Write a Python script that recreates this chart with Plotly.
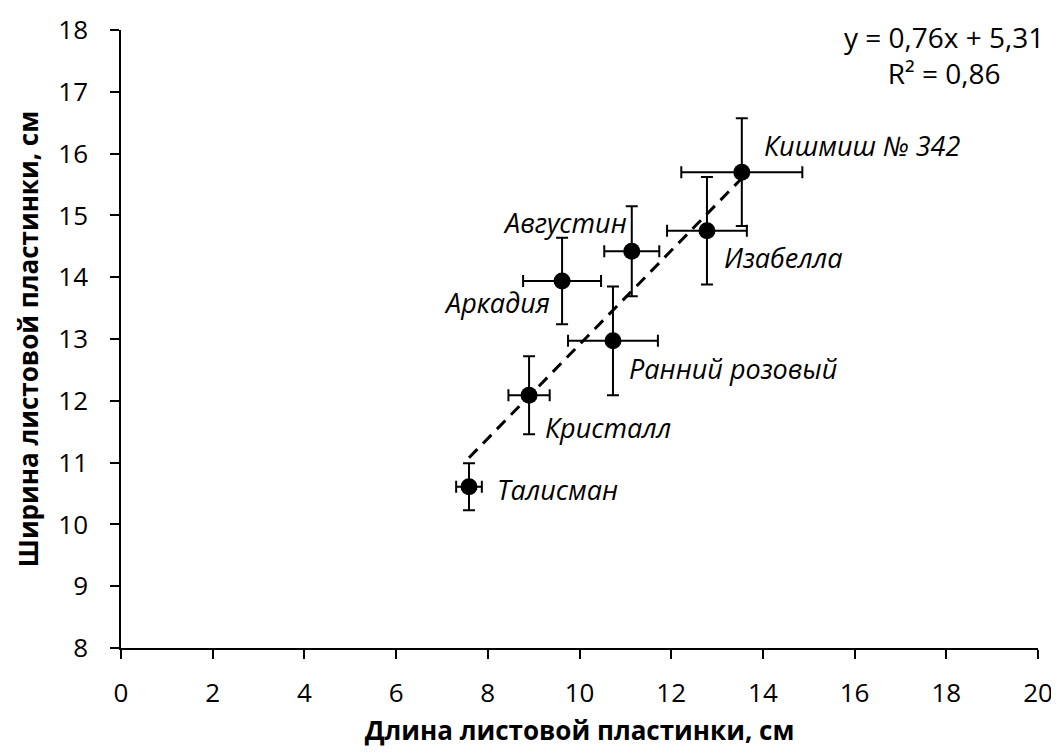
import plotly.graph_objects as go

varieties = ["Талисман", "Кристалл", "Ранний розовый", "Аркадия", "Августин", "Изабелла", "Кишмиш № 342"]
length_cm = [7.59, 8.90, 10.73, 9.62, 11.14, 12.78, 13.54]
width_cm = [10.61, 12.09, 12.97, 13.94, 14.42, 14.75, 15.70]
length_err = [0.28, 0.45, 0.98, 0.85, 0.60, 0.87, 1.32]
width_err = [0.38, 0.63, 0.88, 0.70, 0.73, 0.87, 0.87]
trend_slope = 0.76
trend_intercept = 5.31
x_ticks = list(range(0, 21, 2))
y_ticks = list(range(8, 19, 1))

label_pos = {
    "Талисман": ("left", 26, -3),
    "Кристалл": ("left", 14, -32),
    "Ранний розовый": ("left", 14, -28),
    "Аркадия": ("right", -10, -22),
    "Августин": ("right", -3, 29),
    "Изабелла": ("left", 15, -27),
    "Кишмиш № 342": ("left", 20, 27),
}

font_family = "Open Sans, Liberation Sans, sans-serif"

fig = go.Figure()

x0, x1 = min(length_cm), max(length_cm)
tx = [x0, x1]
ty = [trend_slope * v + trend_intercept for v in tx]
fig.add_trace(go.Scatter(x=tx, y=ty, mode="lines",
                         line=dict(color="black", width=3, dash="12px,8px"),
                         hoverinfo="skip", showlegend=False))

fig.add_trace(go.Scatter(
    x=length_cm, y=width_cm, mode="markers",
    marker=dict(color="black", size=17),
    error_x=dict(type="data", array=length_err, visible=True, color="black", thickness=2, width=6),
    error_y=dict(type="data", array=width_err, visible=True, color="black", thickness=2, width=6),
    showlegend=False))

for name, xv, yv in zip(varieties, length_cm, width_cm):
    anchor, dx, dy = label_pos[name]
    fig.add_annotation(x=xv, y=yv, text=name, showarrow=False,
                       xanchor=anchor, yanchor="middle", xshift=dx, yshift=dy,
                       font=dict(family=font_family, size=27, color="black", style="italic"))

fig.add_annotation(xref="paper", yref="paper", x=1.0, y=1.0, xanchor="right", yanchor="top",
                   text="y = 0,76x + 5,31<br>R² = 0,86", align="center", showarrow=False,
                   yshift=14, xshift=8,
                   font=dict(family=font_family, size=28, color="black"))

fig.update_xaxes(range=[0, 20], tickvals=x_ticks, showgrid=False, zeroline=False,
                 showline=True, linecolor="black", linewidth=1.5,
                 ticks="outside", ticklen=9, tickcolor="black", tickwidth=1.5,
                 ticklabelstandoff=12,
                 tickfont=dict(family=font_family, size=26, color="black"),
                 title=dict(text="<b>Длина листовой пластинки, см</b>", standoff=13,
                            font=dict(family=font_family, size=26, color="black")))
fig.update_yaxes(range=[8, 18], tickvals=y_ticks, showgrid=False, zeroline=False,
                 showline=True, linecolor="black", linewidth=1.5,
                 ticks="outside", ticklen=9, tickcolor="black", tickwidth=1.5,
                 ticklabelstandoff=17,
                 tickfont=dict(family=font_family, size=26, color="black"),
                 title=dict(text="<b>Ширина листовой пластинки, см</b>", standoff=12,
                            font=dict(family=font_family, size=26, color="black")))

fig.update_layout(width=1059, height=756, plot_bgcolor="white", paper_bgcolor="white",
                  margin=dict(l=113, r=29, t=22, b=116, autoexpand=False))

fig.write_html("out.html")
